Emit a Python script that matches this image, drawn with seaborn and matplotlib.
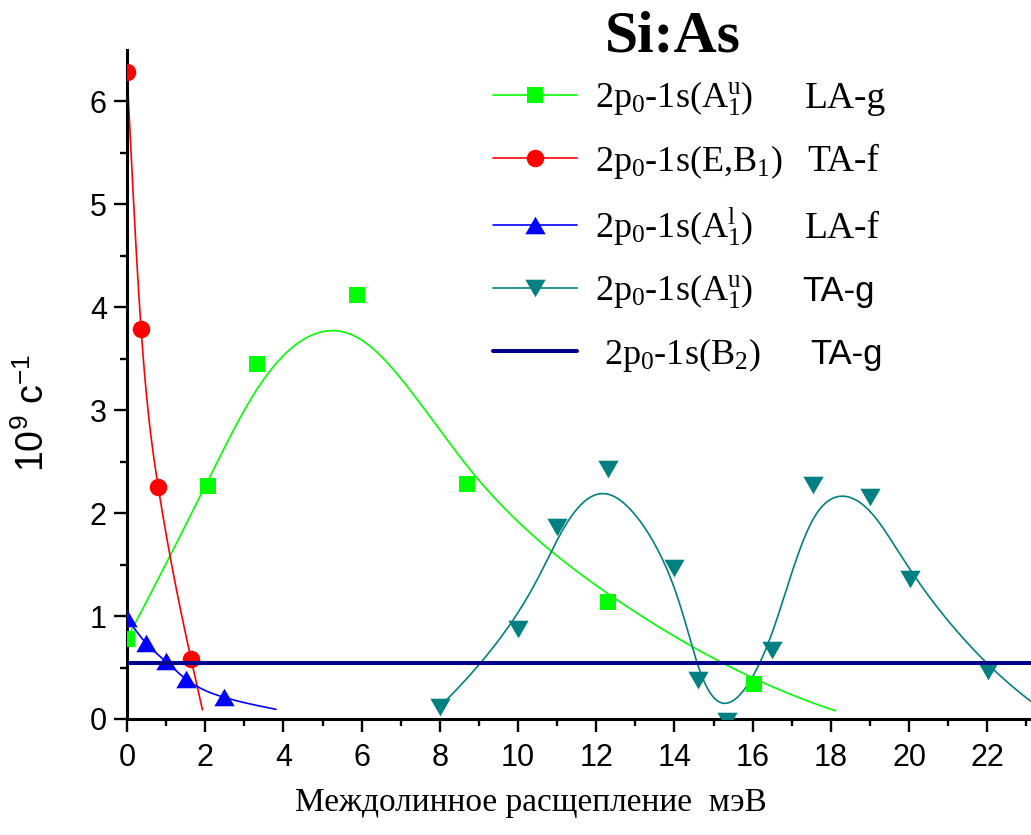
import numpy as np
import matplotlib
matplotlib.use("Agg")
import matplotlib.pyplot as plt
from matplotlib.lines import Line2D
import seaborn as sns

# ---- data -------------------------------------------------------------
# 2p0-1s(A1u), LA-g
la_g_x = [0.0, 2.06, 3.32, 5.87, 8.70, 12.31, 16.03]
la_g_y = [0.78, 2.26, 3.45, 4.12, 2.28, 1.14, 0.34]
la_g_end = (18.12, 0.08)          # last curve node (no symbol)

# 2p0-1s(E,B1), TA-f
ta_f_x = [0.0, 0.36, 0.80, 1.64]
ta_f_y = [6.29, 3.79, 2.25, 0.58]
ta_f_end = (1.93, 0.09)

# 2p0-1s(A1l), LA-f
la_f_x = [0.0, 0.48, 0.99, 1.50, 2.49]
la_f_y = [0.98, 0.74, 0.56, 0.39, 0.21]
la_f_end = (3.81, 0.094)

# 2p0-1s(A1u), TA-g
ta_g_x = [8.0, 10.0, 11.0, 12.3, 14.0, 14.6, 15.35, 16.5, 17.55, 19.0, 20.03, 22.03]
ta_g_y = [0.12, 0.87, 1.87, 2.43, 1.47, 0.38, -0.02, 0.67, 2.27, 2.16, 1.36, 0.47]
ta_g_end = (23.3, 0.12)

# 2p0-1s(B2), TA-g : constant level
b2_level = 0.54

legend_main = [r"2p$_0$-1s($\mathrm{A}_1^{\mathrm{u}}$)",
               r"2p$_0$-1s(E,B$_1$)",
               r"2p$_0$-1s($\mathrm{A}_1^{\mathrm{l}}$)",
               r"2p$_0$-1s($\mathrm{A}_1^{\mathrm{u}}$)",
               r" 2p$_0$-1s(B$_2$)"]
legend_mode = ["LA-g", "TA-f", "LA-f", "TA-g", "TA-g"]

x_ticks = list(range(0, 23, 2))
y_ticks = list(range(0, 7))

# ---- curve helpers ----------------------------------------------------
def bspline(px, py, samples=600):
    """Clamped uniform cubic B-spline using the points as control nodes."""
    P = np.column_stack([px, py])
    n = len(P) - 1
    k = 3
    m = n - k + 1
    knots = np.concatenate([np.zeros(k), np.arange(m + 1), np.full(k, m)]).astype(float)
    u = np.linspace(0, m, samples)
    u[-1] -= 1e-9
    B = np.zeros((samples, len(knots) - 1))
    for i in range(len(knots) - 1):
        B[:, i] = (knots[i] <= u) & (u < knots[i + 1])
    for p in range(1, k + 1):
        Bn = np.zeros((samples, len(knots) - 1 - p))
        for i in range(len(knots) - 1 - p):
            d1 = knots[i + p] - knots[i]
            d2 = knots[i + p + 1] - knots[i + 1]
            t1 = (u - knots[i]) / d1 * B[:, i] if d1 > 0 else 0.0
            t2 = (knots[i + p + 1] - u) / d2 * B[:, i + 1] if d2 > 0 else 0.0
            Bn[:, i] = t1 + t2
        B = Bn
    C = B @ P
    return C[:, 0], C[:, 1]


def natural_spline(px, py, samples=400):
    """Natural cubic spline passing through the points."""
    x = np.asarray(px, float)
    y = np.asarray(py, float)
    n = len(x)
    h = np.diff(x)
    A = np.zeros((n, n))
    r = np.zeros(n)
    A[0, 0] = A[-1, -1] = 1.0
    for i in range(1, n - 1):
        A[i, i - 1] = h[i - 1]
        A[i, i] = 2 * (h[i - 1] + h[i])
        A[i, i + 1] = h[i]
        r[i] = 6 * ((y[i + 1] - y[i]) / h[i] - (y[i] - y[i - 1]) / h[i - 1])
    M = np.linalg.solve(A, r)
    xs = np.linspace(x[0], x[-1], samples)
    j = np.clip(np.searchsorted(x, xs) - 1, 0, n - 2)
    a = x[j + 1] - xs
    b = xs - x[j]
    hj = h[j]
    ys = (M[j] * a ** 3 + M[j + 1] * b ** 3) / (6 * hj) \
        + (y[j] / hj - M[j] * hj / 6) * a + (y[j + 1] / hj - M[j + 1] * hj / 6) * b
    return xs, ys


# ---- style ------------------------------------------------------------
sns.set_theme(style="ticks")
plt.rcParams.update({
    "font.family": ["Liberation Sans", "DejaVu Sans"],
    "text.color": "black",
    "mathtext.fontset": "custom",
    "mathtext.rm": "Liberation Serif",
    "mathtext.it": "Liberation Serif:italic",
    "mathtext.bf": "Liberation Serif:bold",
    "mathtext.sf": "Liberation Sans",
    "axes.linewidth": 2.2,
    "axes.edgecolor": "black",
    "axes.labelcolor": "black",
})

GREEN = "#00FF00"
RED = "#FF0000"
BLUE = "#0000FF"
TEAL = "#008080"
NAVY = "#00008F"

tri_up = [(-1.0, -0.866), (1.0, -0.866), (0.0, 0.866)]
tri_down = [(-1.0, 0.866), (1.0, 0.866), (0.0, -0.866)]

SQ, CI, TR = 11.5, 12.6, 14.6   # symbol sizes in points

W, H = 1031, 835
fig = plt.figure(figsize=(W / 100, H / 100), dpi=100)
ax = fig.add_axes([127 / W, (H - 719) / H, (W - 127) / W, 669 / H])

# ---- curves -----------------------------------------------------------
gx, gy = bspline(la_g_x + [la_g_end[0]], la_g_y + [la_g_end[1]])
rx, ry = natural_spline(ta_f_x + [ta_f_end[0]], ta_f_y + [ta_f_end[1]])
bx, by = natural_spline(la_f_x + [la_f_end[0]], la_f_y + [la_f_end[1]])
tx, ty = bspline(ta_g_x + [ta_g_end[0]], ta_g_y + [ta_g_end[1]])

for cx, cy, col in [(gx, gy, GREEN), (rx, ry, RED), (bx, by, BLUE), (tx, ty, TEAL)]:
    sns.lineplot(x=cx, y=cy, sort=False, estimator=None, color=col,
                 linewidth=1.2, ax=ax, zorder=2)

# ---- symbols ----------------------------------------------------------
sns.scatterplot(x=la_g_x, y=la_g_y, marker="s", s=SQ ** 2, color=GREEN,
                linewidth=0, ax=ax, zorder=3)
sns.scatterplot(x=ta_f_x, y=ta_f_y, marker="o", s=CI ** 2, color=RED,
                linewidth=0, ax=ax, zorder=3)
sns.scatterplot(x=la_f_x, y=la_f_y, marker=tri_up, s=TR ** 2, color=BLUE,
                linewidth=0, ax=ax, zorder=3)
sns.scatterplot(x=ta_g_x, y=ta_g_y, marker=tri_down, s=TR ** 2, color=TEAL,
                linewidth=0, ax=ax, zorder=3)

ax.axhline(b2_level, color=NAVY, linewidth=2.9, zorder=4)

# ---- axes -------------------------------------------------------------
ax.set_xlim(0, 23.12)
ax.set_ylim(0, 6.5)
ax.set_xticks(x_ticks)
ax.set_yticks(y_ticks)
ax.set_xticks(np.arange(1, 24, 2), minor=True)
ax.set_yticks(np.arange(0.5, 6.5, 1.0), minor=True)
ax.tick_params(which="major", direction="out", length=9.5, width=1.7,
               labelsize=22, color="black", labelcolor="black")
ax.tick_params(which="minor", direction="out", length=5.2, width=1.7, color="black")
ax.tick_params(axis="x", which="major", pad=8)
ax.tick_params(axis="y", which="major", pad=5)
sns.despine(ax=ax, top=True, right=True)

ax.set_xlabel("Междолинное расщепление  мэВ", family="Liberation Serif",
              fontsize=24, color="black")
ax.xaxis.set_label_coords(0.447, -0.103)
ax.set_ylabel(r"$\mathsf{10^{9}}$ с$^{\mathsf{-1}}$", family="Liberation Sans",
              fontsize=27, color="black")
ax.yaxis.set_label_coords(-0.083, 0.458)

fig.text(673 / W, 1 - 52 / H, "Si:As", family="Liberation Serif",
         fontweight="bold", fontsize=43, ha="center", va="baseline", color="black")

# ---- legend -----------------------------------------------------------
handles = [
    Line2D([], [], color=GREEN, lw=1.2, marker="s", markersize=SQ, markeredgewidth=0),
    Line2D([], [], color=RED, lw=1.2, marker="o", markersize=CI, markeredgewidth=0),
    Line2D([], [], color=BLUE, lw=1.2, marker=tri_up, markersize=TR, markeredgewidth=0),
    Line2D([], [], color=TEAL, lw=1.2, marker=tri_down, markersize=TR, markeredgewidth=0),
    Line2D([], [], color=NAVY, lw=2.9),
]
leg = ax.legend(handles, legend_main, loc="upper left",
                bbox_to_anchor=(493 / W, 1 - 80 / H), bbox_transform=fig.transFigure,
                frameon=False, borderpad=0, borderaxespad=0,
                handlelength=2.33, handletextpad=0.5, labelspacing=0.68,
                prop={"family": "Liberation Serif", "size": 26})
for t in leg.get_texts():
    t.set_color("black")

fig.canvas.draw()
renderer = fig.canvas.get_renderer()
mode_x = [805, 807, 805, 802, 810]
mode_font = ["Liberation Serif", "Liberation Serif", "Liberation Serif",
             "Liberation Sans", "Liberation Sans"]
mode_size = [27, 27, 27, 25, 25]
for h, txt, mx, fam, fs in zip(leg.legend_handles, legend_mode, mode_x, mode_font, mode_size):
    bb = h.get_window_extent(renderer)
    yc = 0.5 * (bb.y0 + bb.y1)
    fig.text(mx / W, (yc - 13) / H, txt, family=fam, fontsize=fs,
             ha="left", va="baseline", color="black")

fig.savefig("out.png", dpi=100)
